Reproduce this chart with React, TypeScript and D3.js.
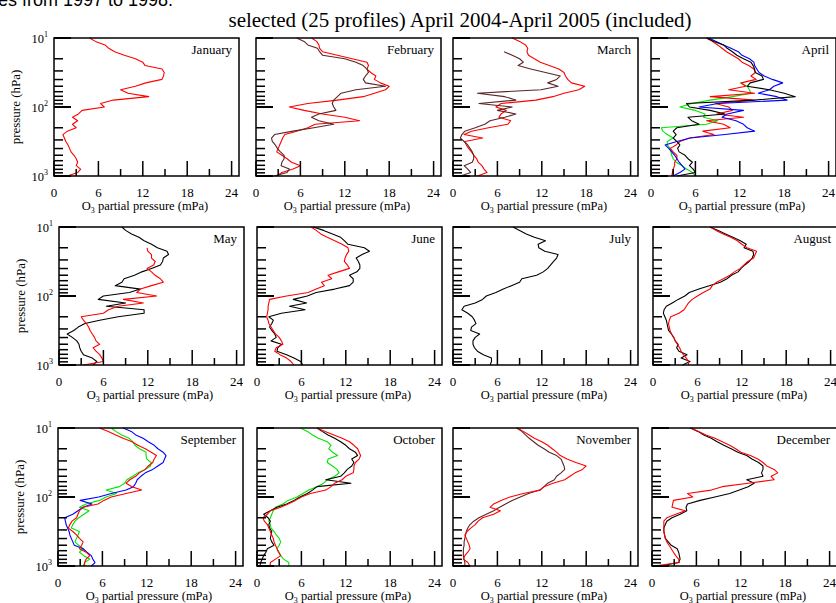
import React, { useEffect, useRef } from 'react';
import * as d3 from 'd3';

// pressure levels (hPa), top of the panel (10) down to the ground (1000)
const pressureLevels = [10, 11.2, 12.6, 14.1, 15.8, 17.8, 20, 22.4, 25.1, 28.2, 31.6, 35.5, 39.8, 44.7, 50.1, 56.2, 63.1, 70.8, 79.4, 89.1, 100, 112, 126, 141, 158, 178, 200, 224, 251, 282, 316, 355, 398, 447, 501, 562, 631, 708, 794, 891, 1000];

// O3 partial pressure (mPa) at each level
const janRed = [4.8, 5.6, 6.9, 7.4, 8.2, 9.5, 11.0, 12.0, 12.3, 14.6, 14.9, 14.8, 14.6, 12.4, 11.0, 9.0, 10.0, 12.8, 8.0, 6.3, 6.8, 3.8, 3.3, 2.5, 3.2, 2.5, 3.0, 1.8, 1.2, 1.4, 1.6, 1.9, 2.1, 2.3, 2.7, 3.0, 3.2, 3.0, 3.6, 3.2, 1.8];
const febRed = [7.5, 8.2, 8.5, 8.6, 9.0, 11.0, 13.0, 15.0, 15.2, 15.0, 15.5, 16.2, 16.0, 16.8, 18.0, 17.5, 16.0, 14.5, 11.0, 7.0, 4.5, 6.5, 9.0, 12.0, 14.0, 8.0, 7.0, 5.5, 3.9, 3.6, 3.4, 3.2, 3.0, 2.8, 3.5, 4.2, 4.8, 6.0, 5.0, 3.5, 2.8];
const febBrown = [5.5, 6.5, 7.0, 8.3, 8.6, 9.0, 12.0, 13.5, 14.5, 15.0, 15.2, 14.8, 14.5, 14.8, 17.5, 13.5, 11.5, 11.0, 10.5, 10.3, 10.5, 10.8, 8.5, 7.5, 8.5, 10.5, 7.8, 5.0, 2.5, 2.1, 2.2, 2.6, 2.9, 3.3, 3.8, 3.8, 3.5, 3.4, 4.5, 4.2, 2.5];
const marRed = [8.0, 9.0, 9.8, 10.1, 10.0, 10.2, 11.0, 11.8, 13.0, 14.3, 15.0, 15.2, 15.5, 16.0, 17.8, 17.0, 15.0, 13.5, 11.2, 6.5, 5.8, 7.2, 6.5, 6.2, 7.8, 7.4, 4.8, 2.5, 1.5, 4.0, 1.6, 1.8, 2.1, 2.5, 2.8, 3.2, 3.4, 3.9, 4.2, 4.6, 3.3];
const marBrown = [null, null, null, null, 6.9, 8.0, 9.0, 9.5, 8.8, 10.5, 12.5, 14.5, 14.0, 12.8, 14.2, 11.9, 3.3, 7.0, 8.5, 3.5, 8.0, 6.0, 8.5, 7.0, 5.0, 4.3, 3.0, 1.6, 1.2, 1.0, 1.5, 2.0, 2.3, 2.6, 2.8, 2.8, 2.6, 1.5, 2.0, 2.4, 1.0];
const aprBlack = [7.5, 8.5, 9.8, 10.3, 11.0, 11.6, 12.5, 13.5, 13.8, 14.0, 14.1, 15.0, 15.2, 13.4, 13.0, 16.0, 18.0, 19.5, 14.0, 4.8, 5.2, 8.0, 10.0, 5.0, 5.5, 6.5, 3.5, 3.0, 3.4, 3.0, 3.5, 3.9, 3.6, 3.8, 4.6, 5.0, 5.6, 5.2, 5.7, 6.0, 3.5];
const aprRed = [7.5, 8.3, 9.0, 9.6, 10.2, 11.0, 11.8, 12.3, 13.2, 13.9, 14.1, 13.5, 14.2, 12.2, 12.8, 10.5, 14.0, 8.0, 14.0, 8.7, 10.5, 11.0, 8.9, 12.5, 7.5, 9.8, 10.7, 7.0, 8.5, 5.2, 3.9, 3.4, 2.6, 3.0, 3.5, 3.5, 3.2, 3.2, 3.0, 2.9, 2.8];
const aprBlue = [7.8, 8.8, 9.8, 10.8, 11.8, 12.3, 13.3, 13.9, 14.0, 14.3, 14.6, 15.3, 16.4, 17.8, 16.6, 16.0, 14.5, 17.0, 18.4, 9.0, 6.5, 12.5, 10.3, 9.6, 11.5, 12.5, 13.0, 14.0, 10.0, 5.3, 3.5, 1.9, 2.4, 2.8, 3.2, 3.5, 3.8, 4.2, 4.6, 3.9, 3.0];
const aprGreen = [null, null, null, null, null, null, null, null, null, null, null, null, null, 12.0, 13.0, 13.3, 13.5, 11.0, 8.0, 5.5, 3.9, 6.0, 7.3, 7.1, 9.0, 7.5, 1.4, 1.6, 2.2, 3.0, 2.2, 2.2, 2.6, 2.7, 2.8, 3.0, 3.4, 4.2, 4.8, 5.6, 6.0];
const mayBlack = [8.5, 9.0, 9.8, 10.8, 11.5, 12.5, 13.3, 14.6, 14.8, 14.1, 14.0, 13.7, 12.5, 11.2, 10.2, 8.8, 8.5, 7.6, 11.0, 9.5, 6.0, 5.3, 9.0, 6.4, 11.5, 11.5, 8.0, 5.5, 3.5, 2.6, 2.0, 1.1, 1.8, 2.4, 2.7, 2.8, 3.0, 3.3, 4.5, 5.1, 4.6];
const mayRed = [null, null, null, null, null, null, 11.9, 12.0, 12.5, 12.5, 13.0, 12.8, 11.9, 12.5, 13.0, 13.7, 14.1, 12.5, 11.0, 10.5, 13.2, 8.7, 11.4, 8.0, 6.7, 6.0, 3.0, 3.3, 3.7, 4.0, 4.2, 4.5, 4.8, 5.0, 5.5, 4.6, 5.0, 5.5, 5.8, 6.0, 3.3];
const junBlack = [7.6, 9.0, 10.2, 11.3, 11.8, 12.3, 14.5, 15.2, 14.2, 13.4, 13.7, 13.9, 13.9, 13.5, 12.5, 13.0, 13.0, 12.5, 10.5, 8.0, 6.8, 4.9, 6.7, 4.4, 6.5, 3.3, 1.6, 2.2, 2.0, 1.7, 2.0, 2.4, 2.6, 1.9, 3.3, 2.8, 2.7, 4.0, 5.0, 5.9, 6.2];
const junRed = [7.3, 8.0, 8.6, 9.5, 10.5, 11.5, 12.3, 12.4, 12.1, 11.9, 11.8, 12.2, 12.5, 11.0, 9.6, 10.1, 8.7, 9.1, 8.0, 6.9, 4.0, 1.7, 1.6, 1.5, 1.5, 1.4, 1.3, 1.5, 1.6, 1.9, 2.2, 2.5, 3.0, 3.3, 3.5, 2.6, 2.4, 3.1, 4.0, 4.6, 5.0];
const julBlack = [8.1, 9.0, 9.9, 11.0, 12.5, 11.5, 11.6, 12.4, 14.2, 14.0, 13.6, 13.2, 12.8, 12.2, 11.3, 9.3, 9.0, 7.9, 6.8, 5.8, 4.5, 4.0, 3.0, 1.5, 1.2, 2.0, 2.6, 2.9, 3.1, 2.5, 2.4, 3.6, 3.0, 2.7, 2.7, 2.9, 3.3, 4.1, 5.2, 5.2, 5.0];
const augBlack = [7.7, 8.8, 9.8, 10.8, 11.8, 12.6, 12.3, 13.5, 13.6, 13.4, 13.0, 12.4, 11.9, 11.5, 10.6, 10.0, 9.1, 7.6, 6.2, 4.9, 4.3, 3.4, 2.6, 1.8, 1.5, 1.4, 1.6, 1.8, 1.9, 2.0, 2.1, 2.5, 2.8, 3.0, 3.4, 3.2, 3.5, 4.6, 3.8, 5.0, 4.0];
const augRed = [7.7, 8.5, 9.5, 10.5, 11.4, 12.0, 12.7, 14.0, 13.8, 13.6, 12.8, 12.3, 11.8, 11.0, 10.4, 9.5, 8.6, 8.0, 7.7, 6.8, 6.0, 5.3, 4.8, 4.5, 4.2, 3.5, 2.4, 2.2, 2.1, 2.2, 2.3, 2.5, 2.8, 3.0, 3.3, 3.6, 3.8, 4.1, 4.5, 4.8, 4.8];
const sepRed = [5.6, 6.8, 7.8, 8.8, 10.0, 10.8, 11.8, 12.6, 13.3, 13.0, 12.8, 12.2, 11.8, 11.0, 10.5, 9.7, 9.2, 10.0, 11.3, 9.2, 7.2, 6.2, 5.4, 3.4, 2.9, 2.7, 2.5, 1.9, 1.6, 1.4, 2.0, 2.5, 2.9, 3.4, 3.2, 2.9, 3.8, 4.3, 3.8, 3.6, 3.6];
const sepBlue = [8.8, 9.9, 10.5, 11.5, 12.2, 13.0, 13.5, 14.2, 14.6, 14.4, 14.2, 13.5, 12.8, 11.8, 11.2, 10.7, 10.5, 10.2, 9.2, 7.2, 5.5, 3.0, 4.6, 3.4, 2.7, 2.0, 0.9, 1.0, 1.1, 1.3, 1.5, 1.6, 1.8, 2.0, 2.2, 3.4, 3.9, 4.5, 4.7, 5.0, 4.5];
const sepGreen = [7.2, 7.8, 8.6, 9.6, 10.1, 10.4, 11.0, 11.9, 11.9, 12.0, 12.6, 12.5, 11.8, 10.8, 10.1, 9.3, 9.0, 8.3, 6.5, 7.9, 6.5, 5.6, 3.8, 2.9, 4.2, 3.5, 2.8, 2.3, 2.0, 1.8, 2.9, 2.7, 2.5, 2.3, 2.8, 3.4, 2.9, 3.5, 4.3, 3.6, 3.4];
const octBlack = [8.1, 8.8, 9.6, 10.5, 11.3, 12.0, 12.5, 13.3, 13.6, 12.8, 13.1, 12.8, 12.2, 11.8, 11.3, 9.3, 12.7, 8.1, 7.5, 6.8, 5.8, 5.0, 4.0, 2.7, 1.8, 0.9, 1.5, 1.8, 1.6, 1.7, 2.0, 1.9, 1.8, 2.0, 2.3, 1.4, 1.2, 0.9, 0.7, 0.5, 0.4];
const octRed = [8.1, 9.2, 10.4, 11.5, 12.5, 13.1, 13.6, 13.8, 14.0, 13.8, 13.3, 13.1, 13.1, 13.0, 12.0, 11.5, 10.5, 10.0, 9.3, 7.2, 6.0, 5.2, 4.2, 3.2, 1.8, 1.4, 0.8, 1.0, 1.4, 1.6, 1.8, 2.0, 2.2, 2.3, 2.5, 2.7, 2.9, 3.2, 2.5, 1.8, 1.8];
const octGreen = [5.9, 6.8, 7.5, 8.3, 9.5, 10.0, 9.7, 10.2, 10.9, 9.6, 9.5, 10.2, 10.8, 11.1, 10.5, 9.5, 9.0, 8.1, 7.0, 6.2, 5.4, 4.2, 3.5, 2.5, 2.2, 2.0, 1.8, 1.6, 1.8, 1.9, 2.3, 2.6, 3.0, 3.2, 3.0, 2.7, 3.0, 3.2, 3.6, 4.3, 4.3];
const novBrown = [8.6, 9.3, 9.8, 10.3, 10.9, 11.5, 12.3, 13.0, 14.0, 14.6, 14.8, 15.0, 15.1, 14.6, 14.0, 13.7, 12.8, 12.3, 11.7, 10.2, 9.1, 8.0, 7.1, 6.3, 5.5, 4.5, 3.5, 2.8, 2.3, 2.0, 1.8, 1.7, 1.6, 1.5, 1.5, 1.4, 1.4, 1.4, 1.5, 1.6, 1.6];
const novRed = [8.7, 9.5, 10.3, 11.0, 12.0, 12.8, 13.4, 14.0, 14.5, 15.4, 16.6, 18.0, 17.5, 16.5, 15.8, 15.1, 13.5, 12.3, 11.8, 9.5, 7.7, 6.5, 5.5, 5.0, 6.4, 5.5, 4.0, 3.4, 3.0, 2.4, 1.9, 1.6, 1.8, 2.0, 2.2, 2.3, 2.0, 1.6, 1.4, 2.0, 2.3];
const decBlack = [5.2, 6.2, 7.0, 8.0, 8.8, 9.7, 10.7, 11.6, 12.8, 13.5, 14.4, 15.0, 15.0, 14.8, 15.0, 12.8, 13.8, 13.0, 11.8, 10.5, 8.5, 6.5, 4.8, 4.6, 4.7, 3.8, 2.7, 2.0, 1.8, 1.6, 1.6, 1.7, 1.8, 2.2, 2.6, 3.4, 3.6, 3.7, 3.8, 3.6, 1.1];
const decRed = [5.2, 6.3, 7.3, 8.5, 9.5, 10.5, 11.3, 12.0, 13.3, 14.3, 15.0, 15.5, 16.5, 17.0, 16.1, 16.5, 13.0, 9.5, 8.0, 4.8, 5.5, 2.9, 2.8, 2.7, 4.5, 3.2, 2.0, 1.6, 1.6, 1.6, 1.6, 1.7, 1.8, 2.0, 2.3, 2.6, 2.9, 3.2, 3.6, 3.7, 0.3];

const months = ['January', 'February', 'March', 'April', 'May', 'June', 'July', 'August', 'September', 'October', 'November', 'December'];
const xTicks = [0, 6, 12, 18, 24];
const xMinorTicks = [3, 9, 15, 21];
const yLabelTicks = [10, 100, 1000];

const RED = '#ff0000';
const BLACK = '#000000';
const BLUE = '#0000ff';
const GREEN = '#00e600';
const BROWN = '#5a2626';

const panelSeries = [
  [{ v: janRed, c: RED }],
  [{ v: febRed, c: RED }, { v: febBrown, c: BROWN }],
  [{ v: marRed, c: RED }, { v: marBrown, c: BROWN }],
  [{ v: aprGreen, c: GREEN }, { v: aprRed, c: RED }, { v: aprBlue, c: BLUE }, { v: aprBlack, c: BLACK }],
  [{ v: mayBlack, c: BLACK }, { v: mayRed, c: RED }],
  [{ v: junBlack, c: BLACK }, { v: junRed, c: RED }],
  [{ v: julBlack, c: BLACK }],
  [{ v: augBlack, c: BLACK }, { v: augRed, c: RED }],
  [{ v: sepGreen, c: GREEN }, { v: sepBlue, c: BLUE }, { v: sepRed, c: RED }],
  [{ v: octGreen, c: GREEN }, { v: octBlack, c: BLACK }, { v: octRed, c: RED }],
  [{ v: novBrown, c: BROWN }, { v: novRed, c: RED }],
  [{ v: decBlack, c: BLACK }, { v: decRed, c: RED }]
];

const rowTops = [38, 227, 428];
const colLefts = [[54, 256, 453, 651], [59, 257, 453, 653], [58, 257, 453, 652]];
const panelW = 185;
const panelH = 138;
const serif = 'Liberation Serif, Times New Roman, serif';

function App() {
  const svgRef = useRef<SVGSVGElement>(null);

  useEffect(() => {
    if (!svgRef.current) return;
    const svg = d3.select(svgRef.current);
    svg.selectAll('*').remove();

    svg.append('rect').attr('width', 836).attr('height', 603).attr('fill', '#fff');

    // cut-off line of the slide above
    svg.append('text')
      .attr('x', -2)
      .attr('y', 6)
      .attr('font-family', 'Liberation Sans, Arial, sans-serif')
      .attr('font-size', 18)
      .attr('fill', '#000')
      .text('es from 1997 to 1998.');

    svg.append('text')
      .attr('x', 460)
      .attr('y', 27)
      .attr('text-anchor', 'middle')
      .attr('font-family', serif)
      .attr('font-size', 21)
      .attr('fill', '#000')
      .text('selected (25 profiles) April 2004-April 2005 (included)');

    panelSeries.forEach((series, p) => {
      const row = Math.floor(p / 4);
      const col = p % 4;
      const left = colLefts[row][col];
      const top = rowTops[row];
      const bottom = top + panelH;

      const x = d3.scaleLinear().domain([0, 25]).range([left, left + panelW]);
      const y = d3.scaleLog().domain([1000, 10]).range([bottom, top]);
      const g = svg.append('g');

      const line = d3.line<number | null>()
        .defined((d) => d != null)
        .x((d) => x(d as number))
        .y((_, i) => y(pressureLevels[i]));

      series.forEach((s) => {
        g.append('path')
          .datum(s.v)
          .attr('fill', 'none')
          .attr('stroke', s.c)
          .attr('stroke-width', 1.1)
          .attr('stroke-linejoin', 'round')
          .attr('d', line);
      });

      // ticks, pointing into the panel
      xTicks.forEach((t) => {
        g.append('line').attr('x1', x(t)).attr('x2', x(t)).attr('y1', bottom).attr('y2', bottom - 15)
          .attr('stroke', '#000').attr('stroke-width', 1.5);
      });
      xMinorTicks.forEach((t) => {
        g.append('line').attr('x1', x(t)).attr('x2', x(t)).attr('y1', bottom).attr('y2', bottom - 7)
          .attr('stroke', '#000').attr('stroke-width', 1.5);
      });
      y.ticks().forEach((t) => {
        const major = yLabelTicks.includes(t);
        g.append('line').attr('x1', left).attr('x2', left + (major ? 17 : 9))
          .attr('y1', y(t)).attr('y2', y(t))
          .attr('stroke', '#000').attr('stroke-width', major ? 2 : 1.5);
      });

      g.append('rect')
        .attr('x', left).attr('y', top).attr('width', panelW).attr('height', panelH)
        .attr('fill', 'none').attr('stroke', '#000').attr('stroke-width', 1.5);

      g.append('text')
        .attr('x', left + panelW - 7)
        .attr('y', top + 16)
        .attr('text-anchor', 'end')
        .attr('font-family', serif)
        .attr('font-size', 13)
        .text(months[p]);

      xTicks.forEach((t) => {
        g.append('text')
          .attr('x', x(t)).attr('y', bottom + 21)
          .attr('text-anchor', 'middle')
          .attr('font-family', serif).attr('font-size', 13)
          .text(t);
      });

      const xt = g.append('text')
        .attr('x', x(12.3)).attr('y', bottom + 34)
        .attr('text-anchor', 'middle')
        .attr('font-family', serif).attr('font-size', 12.5);
      xt.append('tspan').text('O');
      xt.append('tspan').attr('font-size', 8).attr('dy', 3).text('3');
      xt.append('tspan').attr('dy', -3).text(' partial pressure (mPa)');

      if (col === 0) {
        yLabelTicks.forEach((t) => {
          const lab = g.append('text')
            .attr('x', left - 6).attr('y', y(t) + 5)
            .attr('text-anchor', 'end')
            .attr('font-family', serif).attr('font-size', 12.5);
          lab.append('tspan').text('10');
          lab.append('tspan').attr('font-size', 8).attr('dy', -6).text(String(Math.round(Math.log10(t))));
        });
        g.append('text')
          .attr('transform', `translate(${left - 34},${top + panelH / 2}) rotate(-90)`)
          .attr('text-anchor', 'middle')
          .attr('font-family', serif).attr('font-size', 13)
          .text('pressure (hPa)');
      }
    });
  }, []);

  return (
    <svg
      ref={svgRef}
      width={836}
      height={603}
      style={{ position: 'absolute', left: 0, top: 0, display: 'block' }}
    />
  );
}

export default App;
